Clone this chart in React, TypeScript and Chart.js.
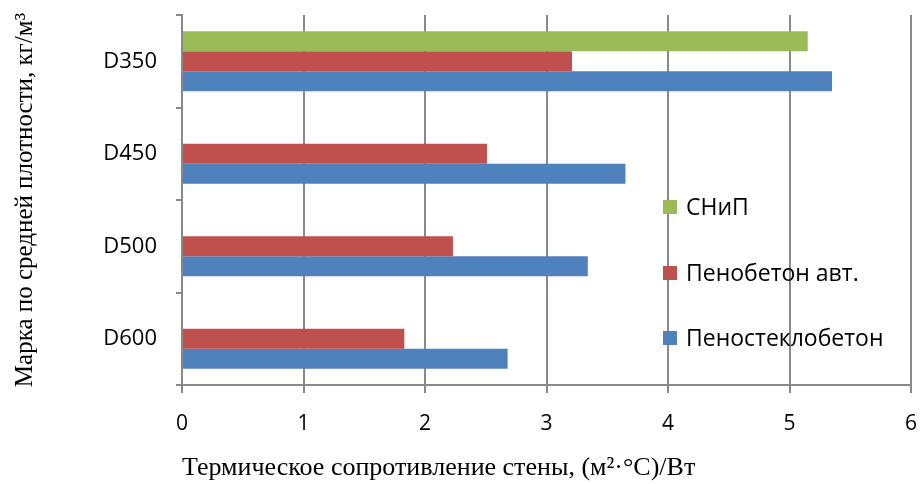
import React, { useEffect, useRef } from 'react';
import { Chart, registerables } from 'chart.js';

Chart.register(...registerables);

const categories = ['D350', 'D450', 'D500', 'D600'];
const seriesNames = ['СНиП', 'Пенобетон авт.', 'Пеностеклобетон'];
const snipValues: (number | null)[] = [5.15, null, null, null];
const penobetonValues = [3.21, 2.51, 2.23, 1.83];
const penosteklobetonValues = [5.35, 3.65, 3.34, 2.68];
const xMin = 0;
const xMax = 6;
const xStep = 1;
const xTitle = 'Термическое сопротивление стены, (м²·°C)/Вт';
const yTitle = 'Марка по средней плотности, кг/м³';
const seriesColors = ['#9BBB59', '#C0504D', '#4F81BD'];

const SANS = '"Open Sans", sans-serif';
const SERIF = '"Liberation Serif", "Times New Roman", serif';

const legendPlugin = {
  id: 'overlayLegend',
  afterDraw(chart: any) {
    const { ctx, chartArea } = chart;
    const x0 = chartArea.left + 481;
    const offsets = [192, 258, 323];
    ctx.save();
    ctx.font = `23px ${SANS}`;
    ctx.textBaseline = 'middle';
    ctx.textAlign = 'left';
    seriesNames.forEach((name, i) => {
      const y = chartArea.top + offsets[i];
      ctx.fillStyle = seriesColors[i];
      ctx.fillRect(x0, y - 7, 14, 14);
      ctx.fillStyle = '#000';
      ctx.fillText(name, x0 + 23, y + 1);
    });
    ctx.restore();
  },
};

export default function App() {
  const ref = useRef<HTMLCanvasElement>(null);
  useEffect(() => {
    document.body.style.margin = '0';
    const canvas = ref.current!;
    const chart = new Chart(canvas, {
      type: 'bar',
      data: {
        labels: categories,
        datasets: [
          { label: seriesNames[0], data: snipValues, backgroundColor: seriesColors[0] },
          { label: seriesNames[1], data: penobetonValues, backgroundColor: seriesColors[1] },
          { label: seriesNames[2], data: penosteklobetonValues, backgroundColor: seriesColors[2] },
        ],
      },
      options: {
        indexAxis: 'y',
        responsive: false,
        animation: false,
        layout: { padding: { top: 15, right: 9, left: 0, bottom: 0 } },
        datasets: { bar: { categoryPercentage: 0.65, barPercentage: 1.0 } },
        plugins: { legend: { display: false }, tooltip: { enabled: false } },
        scales: {
          x: {
            type: 'linear',
            min: xMin,
            max: xMax,
            ticks: { stepSize: xStep, color: '#000', font: { family: SANS, size: 21 }, padding: 18 },
            grid: { color: '#898989', lineWidth: 2, tickLength: 8 },
            border: { color: '#898989', width: 2 },
            title: {
              display: true,
              text: xTitle,
              align: 'start',
              color: '#000',
              font: { family: SERIF, size: 26 },
              padding: { top: 0, bottom: 0 },
            },
            afterFit(scale: any) {
              scale.height = 99;
              scale.paddingLeft = 0;
              scale.paddingRight = 0;
            },
          },
          y: {
            type: 'category',
            ticks: { color: '#000', font: { family: SANS, size: 22 }, padding: 19 },
            grid: { offset: true, drawOnChartArea: false, color: '#898989', lineWidth: 2, tickLength: 6 },
            border: { color: '#898989', width: 2 },
            title: {
              display: true,
              text: yTitle,
              color: '#000',
              font: { family: SERIF, size: 25 },
              padding: { top: 10, bottom: 0 },
            },
            afterFit(scale: any) {
              scale.width = 182;
              scale.paddingTop = 0;
              scale.paddingBottom = 0;
            },
          },
        },
      },
      plugins: [legendPlugin],
    });
    return () => chart.destroy();
  }, []);
  return (
    <div style={{ width: 920, height: 484, background: '#fff' }}>
      <canvas ref={ref} width={920} height={484} />
    </div>
  );
}
